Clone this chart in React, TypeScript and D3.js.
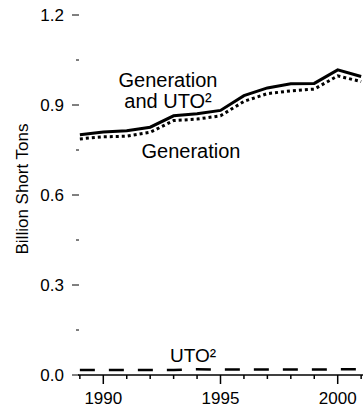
import React from "react";
import * as d3 from "d3";

const years = [1989, 1990, 1991, 1992, 1993, 1994, 1995, 1996, 1997, 1998, 1999, 2000, 2001];
const generationAndUTO = [0.801, 0.810, 0.814, 0.826, 0.864, 0.871, 0.882, 0.931, 0.957, 0.971, 0.972, 1.017, 0.995];
const generation = [0.787, 0.794, 0.796, 0.809, 0.848, 0.853, 0.864, 0.912, 0.938, 0.947, 0.953, 0.997, 0.978];
const uto = [0.017, 0.017, 0.017, 0.017, 0.017, 0.019, 0.018, 0.018, 0.018, 0.018, 0.018, 0.019, 0.019];
const yMajorTicks = [0, 0.3, 0.6, 0.9, 1.2];
const yMinorTicks = [0.15, 0.45, 0.75, 1.05];
const xMajorTicks = [1990, 1995, 2000];
const yTickLabels = ["0.0", "0.3", "0.6", "0.9", "1.2"];

const W = 363;
const H = 409;
const FONT = "'Liberation Sans', Arial, Helvetica, sans-serif";

export default function App() {
  const x = d3.scaleLinear().domain([1990, 2000]).range([103.3, 337.7]);
  const y = d3.scaleLinear().domain([0, 1.2]).range([375, 15]);

  const line = d3
    .line<number>()
    .x((_, i) => x(years[i]))
    .y((d) => y(d));

  const axisY = y(0);

  return (
    <svg
      width={W}
      height={H}
      style={{ position: "absolute", left: 0, top: 0, background: "#fff" }}
      fontFamily={FONT}
    >
      <rect width={W} height={H} fill="#fff" />
      {/* y ticks */}
      {yMajorTicks.map((t, i) => (
        <g key={"ym" + t}>
          <line x1={72} x2={79} y1={y(t)} y2={y(t)} stroke="#000" strokeWidth={1} />
          <text x={64} y={y(t)} dy="0.36em" textAnchor="end" fontSize={17} fill="#000">
            {yTickLabels[i]}
          </text>
        </g>
      ))}
      {yMinorTicks.map((t) => (
        <line key={"yn" + t} x1={76} x2={79} y1={y(t)} y2={y(t)} stroke="#000" strokeWidth={1} />
      ))}
      {/* y title */}
      <text
        transform={`translate(28,189) rotate(-90)`}
        textAnchor="middle"
        fontSize={17}
        fill="#000"
      >
        Billion Short Tons
      </text>
      {/* x axis */}
      <line x1={78} x2={W} y1={axisY} y2={axisY} stroke="#000" strokeWidth={1.5} />
      {years.map((yr) => (
        <line
          key={"xt" + yr}
          x1={x(yr)}
          x2={x(yr)}
          y1={axisY}
          y2={axisY + (xMajorTicks.includes(yr) ? 9 : 4)}
          stroke="#000"
          strokeWidth={1.5}
        />
      ))}
      {xMajorTicks.map((yr) => (
        <text key={"xl" + yr} x={x(yr)} y={404} textAnchor="middle" fontSize={17} fill="#000">
          {yr}
        </text>
      ))}
      {/* lines */}
      <path d={line(uto) || ""} fill="none" stroke="#000" strokeWidth={2.5} strokeDasharray="15,14" />
      <path d={line(generation) || ""} fill="none" stroke="#000" strokeWidth={3} strokeDasharray="3,3" />
      <path d={line(generationAndUTO) || ""} fill="none" stroke="#000" strokeWidth={3} />
      {/* annotations */}
      <text x={168} y={87} textAnchor="middle" fontSize={20} fill="#000">Generation</text>
      <text x={168} y={108} textAnchor="middle" fontSize={20} fill="#000">and UTO²</text>
      <text x={191} y={158} textAnchor="middle" fontSize={20} fill="#000">Generation</text>
      <text x={193} y={362} textAnchor="middle" fontSize={19} fill="#000">UTO²</text>
    </svg>
  );
}
